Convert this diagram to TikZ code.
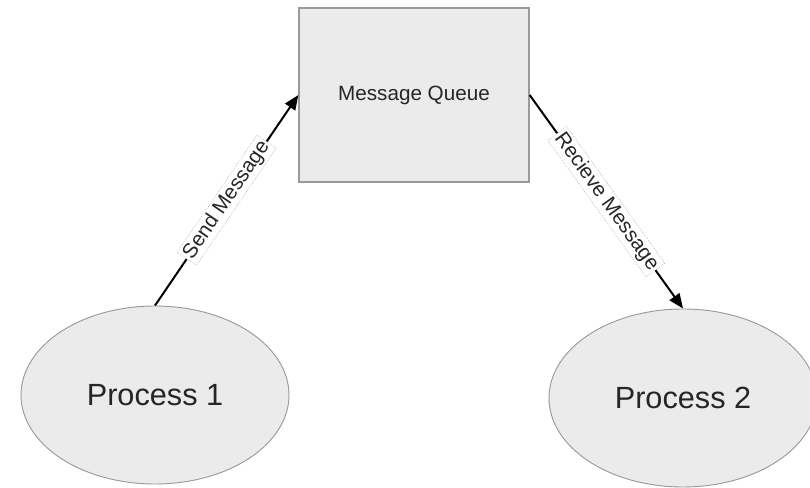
\documentclass[tikz,border=0pt]{standalone}
\usepackage{fontspec}
\setmainfont{Liberation Sans}
\usetikzlibrary{shapes.geometric,arrows.meta}
\definecolor{shapefill}{HTML}{EBEBEB}
\definecolor{shapeline}{HTML}{9A9A9A}
\tikzset{
  queuebox/.style={draw=shapeline, line width=1pt, fill=shapefill, rectangle,
    minimum width=172.5pt, minimum height=130.5pt, inner sep=0pt,
    text=black!85, font=\fontsize{15.5}{18}\selectfont},
  procnode/.style={draw=shapeline, line width=0.7pt, fill=shapefill, ellipse,
    minimum width=201pt, minimum height=133.5pt, inner sep=0pt,
    text=black!85, font=\fontsize{23}{27}\selectfont},
  msgarrow/.style={line width=1.5pt, black,
    -{Triangle[length=11pt,width=9pt]}},
  msglabel/.style={sloped, midway, fill=white, draw=black!30, densely dotted,
    line width=0.5pt, inner sep=1.5pt, text=black!85,
    font=\fontsize{15.5}{18}\selectfont}
}
\begin{document}
\begin{tikzpicture}[x=0.75pt, y=-0.75pt]
  \useasboundingbox (0,0) rectangle (810,488);
  \node[queuebox] (queue) at (414,95) {Message Queue};
  \node[procnode] (p1) at (155,395) {Process 1};
  \node[procnode] (p2) at (683,398) {Process 2};
  \draw[msgarrow] (p1.north) -- (queue.west)
    node[msglabel] (sendlbl) {Send Message};
  \draw[msgarrow] (queue.east) -- (p2.north)
    node[msglabel] (recvlbl) {Recieve Message};
\end{tikzpicture}
\end{document}
